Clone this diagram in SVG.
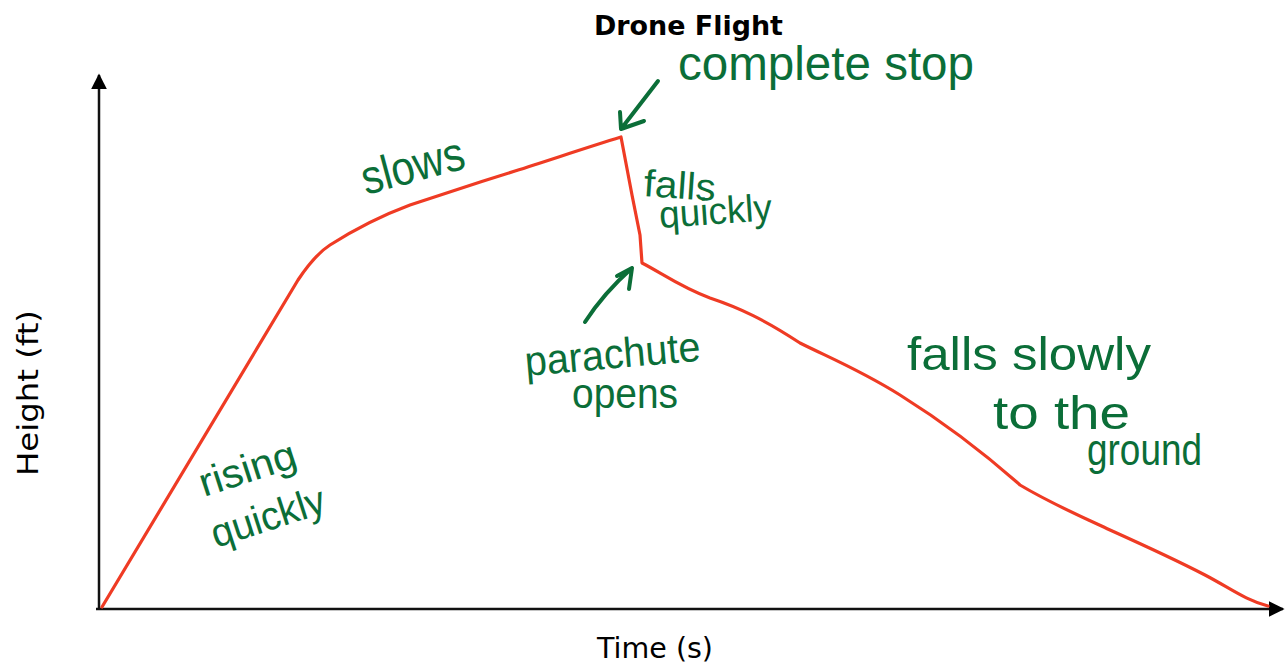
<svg xmlns="http://www.w3.org/2000/svg" width="1286" height="664" viewBox="0 0 1286 664">
  <defs>
    <marker id="axisHead" viewBox="0 0 10 10" refX="9" refY="5" markerWidth="16" markerHeight="16" markerUnits="userSpaceOnUse" orient="auto">
      <path d="M0,0 L10,5 L0,10 Z" fill="#000"/>
    </marker>
    <style>
      .axis { stroke: #111; stroke-width: 2.5; fill: none; }
      .curve { stroke: #ef3b24; stroke-width: 3.2; fill: none; stroke-linejoin: round; stroke-linecap: round; }
      .note { fill: #0b6e38; font-family: "Liberation Sans", "DejaVu Sans", sans-serif; }
      .pen { stroke: #0b6e38; stroke-width: 4; fill: none; stroke-linecap: round; stroke-linejoin: round; }
      .label { fill: #000; font-family: "DejaVu Sans", "Liberation Sans", sans-serif; }
    </style>
  </defs>
  <rect width="1286" height="664" fill="#fff"/>

  <!-- title -->
  <text id="title" class="label" x="594" y="35" font-size="26" font-weight="bold" textLength="189" lengthAdjust="spacingAndGlyphs">Drone Flight</text>

  <!-- axes -->
  <g id="axes">
    <line class="axis" x1="99" y1="609" x2="99" y2="75" marker-end="url(#axisHead)"/>
    <line class="axis" x1="96" y1="609" x2="1283" y2="609" marker-end="url(#axisHead)"/>
    <text id="x-label" class="label" x="597" y="658" font-size="28" textLength="116" lengthAdjust="spacingAndGlyphs">Time (s)</text>
    <text id="y-label" class="label" transform="translate(38,476) rotate(-90)" font-size="28" textLength="166" lengthAdjust="spacingAndGlyphs">Height (ft)</text>
  </g>

  <!-- flight path -->
  <g id="flight-path">
    <path class="curve" d="M102,607 L298,280 C306,268 316,254 330,245 C352,231 375,218 410,205 C450,192 480,182 515,171 C550,160 585,148 621,137 L632,195 L640,235 L642,263 C660,272 680,287 710,298 C740,308 765,320 800,343 C830,358 860,370 900,395 C940,420 975,445 1020,485 C1050,503 1080,516 1110,530 C1150,548 1180,562 1205,575 C1230,588 1245,600 1268,606"/>
  </g>

  <!-- annotations -->
  <g id="note-rising">
    <text class="note" transform="translate(204,497) rotate(-18)" font-size="40" textLength="100" lengthAdjust="spacingAndGlyphs">rising</text>
    <text class="note" transform="translate(216,548) rotate(-18)" font-size="40" textLength="118" lengthAdjust="spacingAndGlyphs">quickly</text>
  </g>

  <g id="note-slows">
    <text class="note" transform="translate(366,195) rotate(-15)" font-size="48" textLength="105" lengthAdjust="spacingAndGlyphs">slows</text>
  </g>

  <g id="note-complete-stop">
    <text class="note" x="678" y="80" font-size="48" textLength="296" lengthAdjust="spacingAndGlyphs">complete stop</text>
    <path class="pen" d="M658,81 L621,129 M620,112 L621,129 L644,121"/>
  </g>

  <g id="note-falls-quickly">
    <text class="note" transform="translate(643,196) rotate(4)" font-size="38" textLength="72" lengthAdjust="spacingAndGlyphs">falls</text>
    <text class="note" transform="translate(660,228) rotate(-4)" font-size="38" textLength="113" lengthAdjust="spacingAndGlyphs">quickly</text>
  </g>

  <g id="note-parachute">
    <path class="pen" d="M585,322 C598,302 614,284 632,268 M617,276 L632,268 L629,289"/>
    <text class="note" transform="translate(526,376) rotate(-5)" font-size="42" textLength="176" lengthAdjust="spacingAndGlyphs">parachute</text>
    <text class="note" x="572" y="408" font-size="42" textLength="106" lengthAdjust="spacingAndGlyphs">opens</text>
  </g>

  <g id="note-falls-slowly">
    <text class="note" x="907" y="370" font-size="46" textLength="244" lengthAdjust="spacingAndGlyphs">falls slowly</text>
    <text class="note" x="993" y="429" font-size="46" textLength="137" lengthAdjust="spacingAndGlyphs">to the</text>
    <text class="note" x="1087" y="465" font-size="44" textLength="115" lengthAdjust="spacingAndGlyphs">ground</text>
  </g>
</svg>
